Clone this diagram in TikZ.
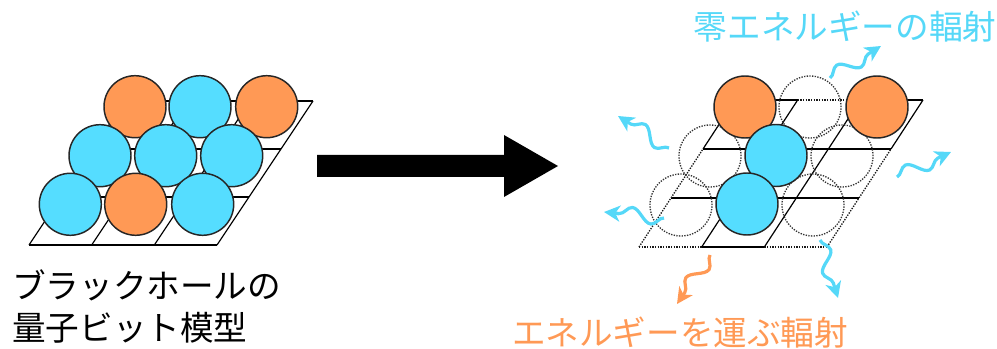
\documentclass[tikz,border=0pt]{standalone}
\usepackage{fontspec}
\newfontfamily\jp{Noto Sans CJK JP}
\usetikzlibrary{arrows.meta,decorations.pathmorphing}
\definecolor{qcyan}{HTML}{55DDFF}
\definecolor{qorange}{HTML}{FF9955}
\definecolor{tcyan}{HTML}{55D8F8}
\tikzset{
  qubit/.style={circle, draw=black!85, line width=1.1pt, minimum size=46.5pt, inner sep=0pt},
  cyanq/.style={qubit, fill=qcyan},
  orangeq/.style={qubit, fill=qorange},
  ghost/.style={circle, draw=black!80, densely dotted, line width=1pt, minimum size=46.5pt, inner sep=0pt},
  gridline/.style={draw=black, line width=0.9pt},
  dotline/.style={draw=black!90, densely dotted, line width=1pt},
  wave/.style={line width=2.4pt, decorate,
    decoration={snake, amplitude=5.5pt, segment length=30pt, post length=10pt},
    -{Stealth[length=12pt, width=12pt, inset=3.5pt]}},
  jtext/.style={font=\jp\fontsize{25.2}{30}\selectfont, inner sep=0pt}
}
\begin{document}
\begin{tikzpicture}[x=0.75pt,y=-0.75pt]
\useasboundingbox (0,0) rectangle (997,349);
% ---------- left grid ----------
\foreach \j in {0,1,2,3}{
  \draw[gridline] ({29+\j*32},{245-\j*48}) -- ({29+188+\j*32},{245-\j*48});
}
\foreach \i in {0,1,2,3}{
  \draw[gridline] ({29+\i*62.67},245) -- ({29+\i*62.67+96},101);
}
% top row
\node[orangeq] (L31) at (135,106.7) {};
\node[cyanq]   (L32) at (200,106.7) {};
\node[orangeq] (L33) at (266.7,106.7) {};
% middle row
\node[cyanq] (L21) at (100,155.7) {};
\node[cyanq] (L22) at (165.7,155.7) {};
\node[cyanq] (L23) at (231.7,155.7) {};
% bottom row
\node[cyanq]   (L11) at (70.3,204.3) {};
\node[orangeq] (L12) at (135.7,204.3) {};
\node[cyanq]   (L13) at (202.7,204.3) {};
% ---------- big arrow ----------
\fill[black] (317,155) -- (504,155) -- (504,135) -- (558,166) -- (504,197) -- (504,177) -- (317,177) -- cycle;
% ---------- right grid ----------
% horizontal lines
\draw[dotline]  ({639},247) -- ({701.67},247);
\draw[gridline] ({701.67},247) -- ({764.33},247);
\draw[dotline]  ({764.33},247) -- ({827},247);
\draw[gridline] ({671},198) -- ({859},198);
\draw[gridline] ({703},149) -- ({891},149);
\draw[gridline] ({735},100) -- ({797.67},100);
\draw[dotline]  ({797.67},100) -- ({860.33},100);
\draw[gridline] ({860.33},100) -- ({923},100);
% slanted lines
\draw[dotline]  (639,247) -- (703,149);
\draw[gridline] (703,149) -- (735,100);
\draw[gridline] (701.67,247) -- (797.67,100);
\draw[gridline] (764.33,247) -- (860.33,100);
\draw[dotline]  (827,247) -- (891,149);
\draw[gridline] (891,149) -- (923,100);
% ghost (removed) qubits
\node[ghost] (G32) at (810,107) {};
\node[ghost] (G21) at (710,156) {};
\node[ghost] (G23) at (842,156) {};
\node[ghost] (G11) at (681,205) {};
\node[ghost] (G13) at (813,205) {};
% remaining qubits
\node[orangeq] (R31) at (745,107) {};
\node[orangeq] (R33) at (877,107) {};
\node[cyanq]   (R22) at (776,155.5) {};
\node[cyanq]   (R12) at (747,204) {};
% ---------- radiation ----------
\coordinate (w1s) at (830,78);  \coordinate (w1e) at (881,46);
\coordinate (w2s) at (669,148); \coordinate (w2e) at (618,116);
\coordinate (w3s) at (897,177); \coordinate (w3e) at (951,152);
\coordinate (w4s) at (664,218); \coordinate (w4e) at (604,212);
\coordinate (w5s) at (820,240); \coordinate (w5e) at (838,298);
\coordinate (w6s) at (710,255); \coordinate (w6e) at (677,304);
\draw[wave, tcyan] (w1s) -- (w1e);
\draw[wave, tcyan] (w2s) -- (w2e);
\draw[wave, tcyan] (w3s) -- (w3e);
\draw[wave, tcyan] (w4s) -- (w4e);
\draw[wave, tcyan] (w5s) -- (w5e);
\draw[wave, qorange] (w6s) -- (w6e);
% ---------- texts ----------
\node[jtext, anchor=west] (t1) at (12,285) {ブラックホールの};
\node[jtext, anchor=west] (t2) at (12,328) {量子ビット模型};
\node[jtext, text=tcyan] (t3) at (845,27) {零エネルギーの輻射};
\node[jtext, text=qorange] (t4) at (680,333) {エネルギーを運ぶ輻射};
\end{tikzpicture}
\end{document}
